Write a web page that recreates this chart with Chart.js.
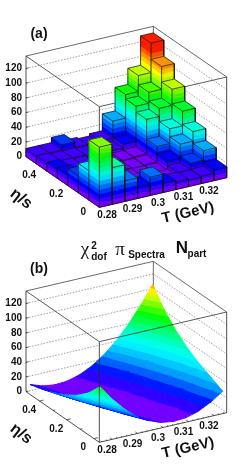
<!DOCTYPE html>
<html lang="en">
<head>
  <meta charset="UTF-8" />
  <title>Chi2 per dof vs T and eta/s</title>
  <script src="https://cdn.jsdelivr.net/npm/chart.js"></script>
  <style>
    body { margin: 0; background: #fff; }
    canvas { display: block; }
  </style>
</head>
<body>
  <canvas id="panelA" width="241" height="235"></canvas>
  <canvas id="panelB" width="241" height="235"></canvas>

  <script>
    // Axis ranges and ticks
    const tRange = [0.275, 0.325];
    const etaRange = [-0.04, 0.5];
    const zTop = 137;
    const zTicks = [0, 20, 40, 60, 80, 100, 120];
    const tTicks = [0.28, 0.29, 0.3, 0.31, 0.32];
    const etaTicks = [0, 0.2, 0.4];
    const tMinor = [0.276, 0.278, 0.282, 0.284, 0.286, 0.288, 0.292, 0.294, 0.296, 0.298, 0.302, 0.304, 0.306, 0.308, 0.312, 0.314, 0.316, 0.318, 0.322, 0.324];
    const etaMinor = [0.1, 0.3];

    // Panel (a): lego bin heights, one row per eta/s bin, front row first
    const legoRow0 = [82, 50, 28, 15, 25, 12, 10, 9, 10, 15];
    const legoRow1 = [40, 15, 7, 4, 3, 3, 4, 9, 18, 31];
    const legoRow2 = [23, 9, 6, 4, 3, 3, 3, 15, 34, 47];
    const legoRow3 = [15, 9, 7, 5, 4, 3, 4, 25, 45, 65];
    const legoRow4 = [12, 10, 9, 7, 5, 4, 5, 52, 63, 85];
    const legoRow5 = [11, 10, 10, 9, 6, 7, 12, 60, 75, 106];
    const legoRow6 = [11, 11, 18, 10, 8, 11, 34, 66, 88, 128];

    // Panel (b): surface nodes
    const surfT = [0.276, 0.2808, 0.2856, 0.2904, 0.2953, 0.3001, 0.3049, 0.3097, 0.3145, 0.3193, 0.3242];
    const surfEta = [-0.0265, 0.0595, 0.1454, 0.2314, 0.3173, 0.4033, 0.4892];
    const surfRow0 = [73.2, 52.3, 35, 21.3, 11.4, 5.1, 2.6, 3.7, 8.5, 16.9, 28];
    const surfRow1 = [53.6, 36.8, 23.3, 13.2, 6.4, 3, 2.9, 6.1, 12.7, 22.6, 35.9];
    const surfRow2 = [39.4, 25.8, 15.3, 7.9, 3.6, 2.4, 4.4, 9.5, 17.7, 29, 43.4];
    const surfRow3 = [29.1, 17.9, 9.7, 4.5, 2.4, 3.3, 7.2, 14.2, 24.2, 37.3, 53.4];
    const surfRow4 = [21.3, 12, 5.8, 2.6, 2.5, 5.5, 11.5, 20.6, 32.8, 48, 66.2];
    const surfRow5 = [15.3, 7.7, 3.3, 2.1, 4.1, 9.4, 17.8, 29.4, 44.2, 62.2, 83.4];
    const surfRow6 = [10.4, 4.5, 2.1, 3.1, 7.6, 15.6, 27.1, 42.1, 60.5, 82.5, 107.9];

    const legoRows = [legoRow0, legoRow1, legoRow2, legoRow3, legoRow4, legoRow5, legoRow6];
    const surfRows = [surfRow0, surfRow1, surfRow2, surfRow3, surfRow4, surfRow5, surfRow6];

    const tickFont = 'bold 10px "Liberation Sans"';

    // 3D view: fixed oblique projection onto the chart's x/y scales
    const project = (p) => {
      const a = (p[0] - tRange[0]) / (tRange[1] - tRange[0]);
      const b = (p[1] - etaRange[0]) / (etaRange[1] - etaRange[0]);
      const c = p[2] / zTop;
      return { x: (a * 382 - b * 220) / 3, y: (a * 89 + b * 152 + c * 302) / 3 };
    };

    const hueColor = (hue, shade) => {
      const k = (n) => (n + hue / 60) % 6;
      const ch = (n) => Math.round(255 * shade * (1 - Math.max(0, Math.min(k(n), 4 - k(n), 1))));
      return `rgb(${ch(5)},${ch(3)},${ch(1)})`;
    };

    // lego palette runs straight through the hues, bands 6 units wide
    const legoBand = 6;
    const legoHue = (n) => 275 * (1 - Math.min(1, (n + 0.5) / 20));

    // surface palette: z value -> hue
    const surfBand = 6.5;
    const surfHueZ = [0, 14, 28, 55, 73, 90, 100, 110];
    const surfHueAt = [275, 240, 205, 165, 128, 85, 58, 35];
    const surfHue = (z) => {
      let k = 0;
      while (k < surfHueZ.length - 2 && z > surfHueZ[k + 1]) k++;
      const s = (z - surfHueZ[k]) / (surfHueZ[k + 1] - surfHueZ[k]);
      return surfHueAt[k] + s * (surfHueAt[k + 1] - surfHueAt[k]);
    };

    const polygon = (pts, fillColor, seam) => ({
      data: [...pts, pts[0]].map(project),
      showLine: true,
      fill: 'shape',
      backgroundColor: fillColor,
      borderColor: fillColor,
      borderWidth: seam || 0.5,
      pointRadius: 0
    });

    const path = (pts, color, width, dash) => ({
      data: pts.map(project),
      showLine: true,
      fill: false,
      borderColor: color,
      borderWidth: width,
      borderDash: dash || [],
      pointRadius: 0
    });

    // Box behind the marks: back walls and dotted grid
    const tA = tRange[0], tB = tRange[1], eA = etaRange[0], eB = etaRange[1];
    const boxBack = () => {
      const out = [];
      zTicks.forEach(z => {
        out.push(path([[tA, eB, z], [tB, eB, z], [tB, eA, z]], '#777', 0.7, [1.5, 1.5]));
      });
      out.push(path([[tB, eB, 0], [tB, eB, zTop]], '#444', 0.8));
      out.push(path([[tA, eB, zTop], [tB, eB, zTop], [tB, eA, zTop]], '#444', 0.8));
      out.push(path([[tA, eB, 0], [tA, eB, zTop]], '#222', 0.8));
      zTicks.forEach(z => {
        out.push(path([[tA, eB, z], [tA + 0.001, eB, z]], '#222', 0.7));
      });
      return out;
    };

    const boxFront = () => {
      const out = [];
      out.push(path([[tA, eB, zTop], [tA, eA, zTop], [tB, eA, zTop]], '#333', 0.8));
      out.push(path([[tA, eA, 0], [tA, eA, zTop]], '#222', 0.8));
      out.push(path([[tB, eA, 0], [tB, eA, zTop]], '#222', 0.8));
      out.push(path([[tA, eB, 0], [tA, eA, 0], [tB, eA, 0]], '#222', 0.8));
      tTicks.forEach(t => out.push(path([[t, eA, 0], [t, eA + 0.016, 0]], '#222', 0.7)));
      tMinor.forEach(t => out.push(path([[t, eA, 0], [t, eA + 0.008, 0]], '#222', 0.7)));
      etaTicks.forEach(e => out.push(path([[tA, e, 0], [tA + 0.0016, e, 0]], '#222', 0.7)));
      etaMinor.forEach(e => out.push(path([[tA, e, 0], [tA + 0.0008, e, 0]], '#222', 0.7)));
      return out;
    };

    // Lego column: two side faces cut in colour bands, a top and black outlines
    const legoColumn = (t0, t1, e0, e1, h) => {
      const out = [];
      const top = Math.min(19, Math.floor(h / legoBand));
      for (let n = 0; n <= top; n++) {
        const lo = n * legoBand;
        const hi = n === top ? h : (n + 1) * legoBand;
        if (hi <= lo) continue;
        out.push(polygon([[t0, e1, lo], [t0, e0, lo], [t0, e0, hi], [t0, e1, hi]], hueColor(legoHue(n), 1)));
        out.push(polygon([[t0, e0, lo], [t1, e0, lo], [t1, e0, hi], [t0, e0, hi]], hueColor(legoHue(n), 0.95)));
      }
      out.push(polygon([[t0, e0, h], [t1, e0, h], [t1, e1, h], [t0, e1, h]], hueColor(legoHue(top), 1)));
      const black = '#111';
      out.push(path([[t0, e1, 0], [t0, e1, h], [t0, e0, h], [t1, e0, h], [t1, e0, 0]], black, 0.7));
      out.push(path([[t0, e1, h], [t1, e1, h], [t1, e0, h]], black, 0.7));
      out.push(path([[t0, e0, 0], [t0, e0, h]], black, 0.7));
      out.push(path([[t0, e1, 0], [t0, e0, 0], [t1, e0, 0]], black, 0.7));
      return out;
    };

    const legoSets = () => {
      const out = boxBack().concat(boxFront());
      const nT = legoRows[0].length;
      const nE = legoRows.length;
      const dT = (tB - tA) / nT;
      const dE = (eB - eA) / nE;
      for (let j = nE - 1; j >= 0; j--) {
        for (let i = nT - 1; i >= 0; i--) {
          out.push(...legoColumn(tA + i * dT, tA + (i + 1) * dT, eA + j * dE, eA + (j + 1) * dE, legoRows[j][i]));
        }
      }
      return out;
    };

    // Clip a triangle to the z slab lo..hi
    const clipZ = (pts, limit, keepAbove) => {
      const out = [];
      pts.forEach((p, n) => {
        const q = pts[(n + 1) % pts.length];
        const inP = keepAbove ? p[2] >= limit : p[2] <= limit;
        const inQ = keepAbove ? q[2] >= limit : q[2] <= limit;
        if (inP) out.push(p);
        if (inP !== inQ) {
          const s = (limit - p[2]) / (q[2] - p[2]);
          out.push([p[0] + s * (q[0] - p[0]), p[1] + s * (q[1] - p[1]), limit]);
        }
      });
      return out;
    };

    const surfaceTriangle = (tri, out) => {
      for (let n = 0; n < 20; n++) {
        const lo = clipZ(tri, n * surfBand, true);
        if (lo.length < 3) continue;
        const band = clipZ(lo, (n + 1) * surfBand, false);
        if (band.length >= 3) out.push(polygon(band, hueColor(surfHue((n + 0.5) * surfBand), 1), 0.9));
      }
    };

    const surfaceSets = () => {
      const out = boxBack();
      for (let j = surfEta.length - 2; j >= 0; j--) {
        for (let i = surfT.length - 2; i >= 0; i--) {
          const p00 = [surfT[i], surfEta[j], surfRows[j][i]];
          const p10 = [surfT[i + 1], surfEta[j], surfRows[j][i + 1]];
          const p01 = [surfT[i], surfEta[j + 1], surfRows[j + 1][i]];
          const p11 = [surfT[i + 1], surfEta[j + 1], surfRows[j + 1][i + 1]];
          surfaceTriangle([p01, p11, p10], out);
          surfaceTriangle([p00, p01, p10], out);
        }
      }
      return out.concat(boxFront());
    };

    // Tick labels and titles, placed from the projected axis positions
    const axisText = (panelLabel, withTitle) => ({
      id: 'axisText',
      afterDraw(chart) {
        const { ctx, scales } = chart;
        const px = (p) => {
          const q = project(p);
          return [scales.x.getPixelForValue(q.x), scales.y.getPixelForValue(q.y)];
        };
        const put = (text, x, y, font, align, angle) => {
          ctx.save();
          ctx.translate(x, y);
          if (angle) ctx.rotate(angle * Math.PI / 180);
          ctx.font = font;
          ctx.fillStyle = '#111';
          ctx.textAlign = align || 'center';
          ctx.textBaseline = 'middle';
          ctx.fillText(text, 0, 0);
          ctx.restore();
        };
        zTicks.forEach(z => {
          const [x, y] = px([tA, eB, z]);
          put(String(z), x - 4, y, tickFont, 'right');
        });
        tTicks.forEach(t => {
          const [x, y] = px([t, eA, 0]);
          put(String(t), x - 5, y + 11, tickFont);
        });
        etaTicks.forEach(e => {
          const [x, y] = px([tA, e, 0]);
          put(String(e), x - 10.5, y + 9, tickFont);
        });
        put('T (GeV)', 188, 213, 'bold 15px "Liberation Sans"', 'center', -13);
        put('η/s', 21, 199, 'bold 16px "Liberation Sans"', 'center', 38);
        put(panelLabel, 39, 34, 'bold 14px "Liberation Sans"');
        if (withTitle) {
          put('χ', 85, 15, '19px "Liberation Serif"');
          put('2', 94, 11, 'bold 10px "Liberation Sans"');
          put('dof', 99, 22, 'bold 10px "Liberation Sans"');
          put('π', 120, 15, '19px "Liberation Serif"');
          put('Spectra', 146.5, 20, 'bold 10px "Liberation Sans"');
          put('N', 182, 13, 'bold 17px "Liberation Sans"');
          put('part', 197, 19, 'bold 10px "Liberation Sans"');
        }
      }
    });

    const drawPanel = (id, sets, label, withTitle) => {
      new Chart(document.getElementById(id), {
        type: 'scatter',
        // first set is drawn last, so hand them over in reverse painting order
        data: { datasets: sets.slice().reverse() },
        options: {
          responsive: false,
          animation: false,
          events: [],
          layout: { padding: 0 },
          plugins: {
            legend: { display: false },
            tooltip: { enabled: false },
            filler: { drawTime: 'beforeDatasetDraw', propagate: false }
          },
          scales: {
            x: { type: 'linear', display: false, min: -298 / 3, max: (723 - 298) / 3 },
            y: { type: 'linear', display: false, min: (622 - 705) / 3, max: 622 / 3 }
          }
        },
        plugins: [axisText(label, withTitle)]
      });
    };

    drawPanel('panelA', legoSets(), '(a)', false);
    drawPanel('panelB', surfaceSets(), '(b)', true);
  </script>
</body>
</html>
